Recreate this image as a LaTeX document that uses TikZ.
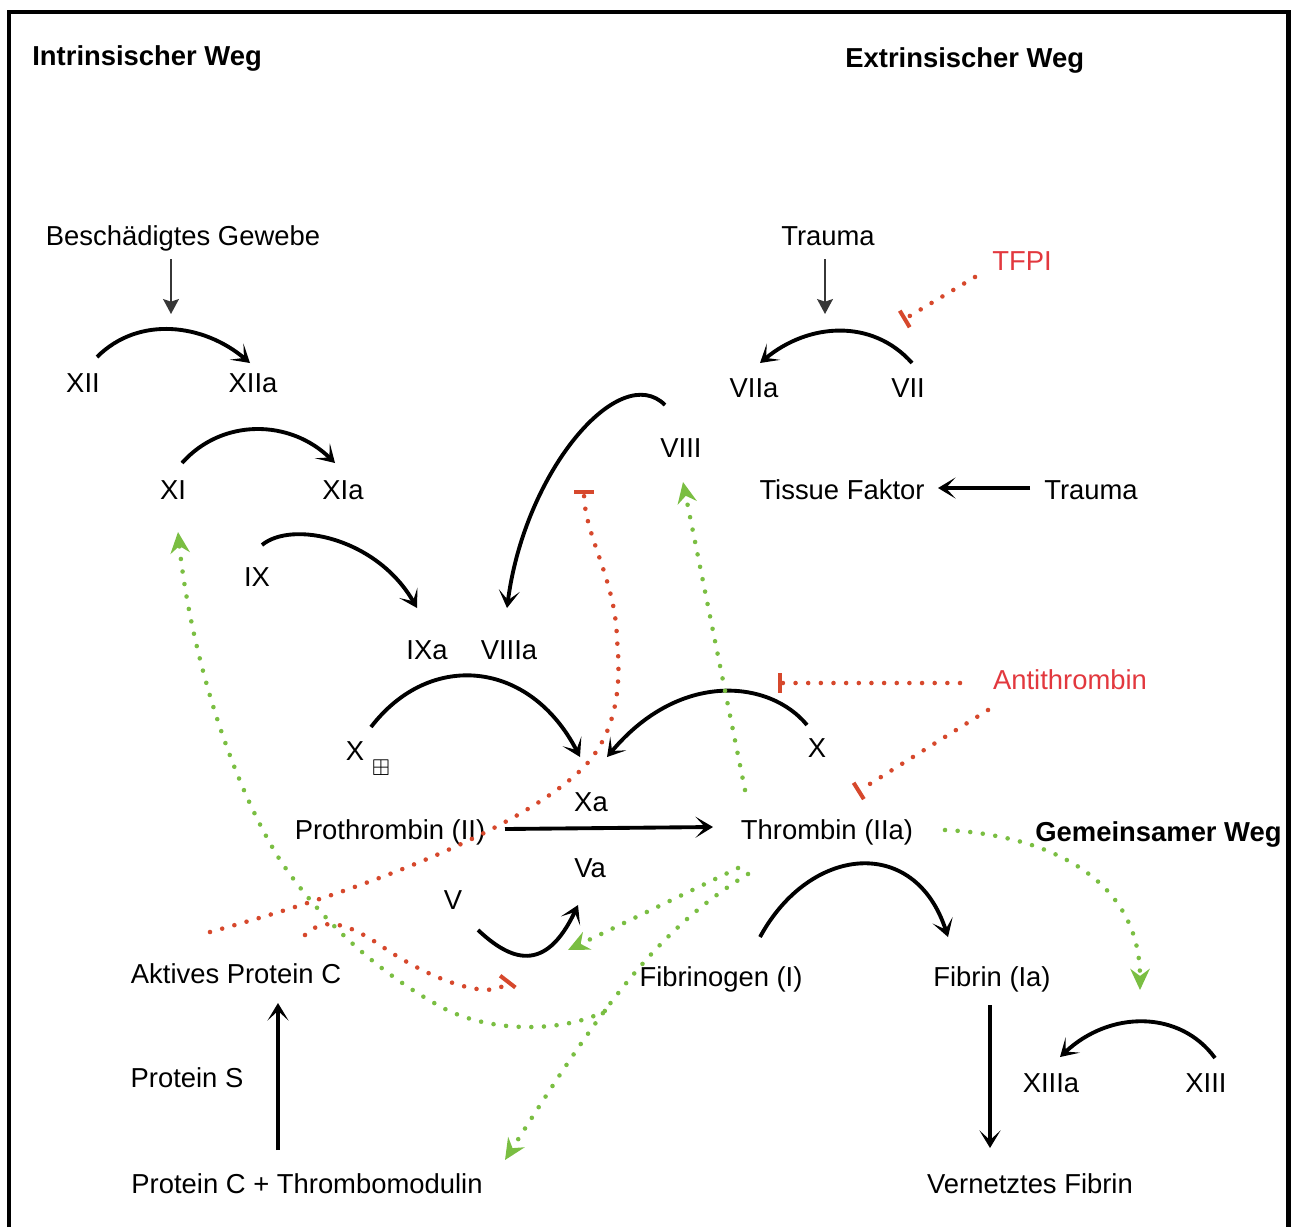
\documentclass[tikz,border=0pt]{standalone}
\usepackage{fontspec}
\setmainfont{Liberation Sans}
\usepackage{amssymb}
\usetikzlibrary{arrows.meta, positioning, calc}

\definecolor{inhred}{RGB}{214,72,44}
\definecolor{inhtext}{RGB}{226,56,62}
\definecolor{actgreen}{RGB}{122,190,66}
\definecolor{causegray}{RGB}{55,55,55}

\begin{document}
\begin{tikzpicture}[
  x=0.02cm, y=-0.02cm,
  font=\fontsize{15.6}{18}\selectfont,
  lbl/.style={anchor=base, inner sep=3pt},
  head/.style={anchor=base west, inner sep=0pt, font=\fontsize{15.6}{18}\selectfont\bfseries},
  conv/.style={-{Stealth[length=10pt, width=12pt, inset=5.5pt]}, black, line width=2.2pt},
  cause/.style={-{Stealth[length=8.5pt, width=9pt, inset=1.5pt]}, causegray, line width=1.2pt},
  act/.style={-{Stealth[length=12pt, width=11pt, inset=4pt]}, actgreen, line width=2.6pt,
              dash pattern=on 0pt off 7.2pt, line cap=round},
  inh/.style={-{Bar[width=11pt, line width=2.3pt]}, inhred, line width=2.6pt,
              dash pattern=on 0pt off 7.2pt, line cap=round}
]
  \useasboundingbox (0,0) rectangle (1293,1227);

  %--- frame ---
  \draw[line width=0.1cm] (9,1227) -- (9,12) -- (1288,12) -- (1288,1227);

  %--- headings ---
  \node[head] (intr) at (32,65)  {Intrinsischer Weg};
  \node[head] (extr) at (845,67) {Extrinsischer Weg};
  \node[head] (gem)  at (1035,841) {Gemeinsamer Weg};

  %--- intrinsic pathway ---
  \node[lbl] (gewebe) at (183,245) {Beschädigtes Gewebe};
  \node[lbl] (xii)    at (83,392)  {XII};
  \node[lbl] (xiia)   at (253,392) {XIIa};
  \node[lbl] (xi)     at (173,499) {XI};
  \node[lbl] (xia)    at (343,499) {XIa};
  \node[lbl] (ix)     at (257,586) {IX};
  \node[lbl] (ixa)    at (427,659) {IXa};
  \node[lbl] (viiia)  at (509,659) {VIIIa};
  \node[lbl] (xl)     at (355,760) {X};
  \node[inner sep=0pt, font=\fontsize{13}{14}\selectfont] (plus) at (381,768) {$\boxplus$};

  %--- extrinsic pathway ---
  \node[lbl] (trauma)  at (828,245)  {Trauma};
  \node[lbl, text=inhtext] (tfpi) at (1022,270) {TFPI};
  \node[lbl] (viia)    at (754,397)  {VIIa};
  \node[lbl] (vii)     at (908,397)  {VII};
  \node[lbl] (viii)    at (681,457)  {VIII};
  \node[lbl] (tf)      at (842,499)  {Tissue Faktor};
  \node[lbl] (trauma2) at (1091,499) {Trauma};
  \node[lbl, text=inhtext] (antithr) at (1070,689) {Antithrombin};
  \node[lbl] (xr)      at (817,757)  {X};

  %--- common pathway ---
  \node[lbl] (xa)     at (591,811)  {Xa};
  \node[lbl] (prothr) at (390,839)  {Prothrombin (II)};
  \node[lbl] (thr)    at (827,839)  {Thrombin (IIa)};
  \node[lbl] (va)     at (590,877)  {Va};
  \node[lbl] (v)      at (453,909)  {V};
  \node[lbl] (apc)    at (236,983)  {Aktives Protein C};
  \node[lbl] (fbg)    at (721,986)  {Fibrinogen (I)};
  \node[lbl] (fib)    at (992,986)  {Fibrin (Ia)};
  \node[lbl] (ps)     at (187,1087) {Protein S};
  \node[lbl] (xiiia)  at (1051,1092) {XIIIa};
  \node[lbl] (xiii)   at (1206,1092) {XIII};
  \node[lbl] (pctm)   at (307,1193) {Protein C + Thrombomodulin};
  \node[lbl] (vfib)   at (1030,1193) {Vernetztes Fibrin};

  %--- free ends ---
  \coordinate (xiiHit)  at (171,314);
  \coordinate (viiHit)  at (825,314);
  \coordinate (tfpiHit) at (903,320);
  \coordinate (xHit)    at (778,683);
  \coordinate (viiiHit) at (584,490);
  \coordinate (vaHit)   at (509,980);
  \coordinate (xiiiHit) at (1140,990);

  %--- triggers ---
  \draw[cause] ([shift={(-12,14)}]gewebe.base) -- (xiiHit);
  \draw[cause] ([shift={(-3,14)}]trauma.base) -- (viiHit);

  %--- conversions ---
  \draw[conv] ([shift={(14,-35)}]xii.base) .. controls +(42,-42) and +(-46,-39) .. ([shift={(-3,-29)}]xiia.base);
  \draw[conv] ([shift={(9,-36)}]xi.base) .. controls +(40,-45) and +(-45,-44) .. ([shift={(-8,-36)}]xia.base);
  \draw[conv] ([shift={(5,-41)}]ix.base) .. controls +(30,-25) and +(-40,-70) .. ([shift={(-10,-51)}]ixa.base);
  \draw[conv] ([shift={(4,-34)}]vii.base) .. controls +(-40,-45) and +(48,-40) .. ([shift={(6,-34)}]viia.base);
  \draw[conv] ([shift={(-16,-52)}]viii.base) .. controls +(-45,-45) and +(18,-138) .. ([shift={(-2,-51)}]viiia.base);
  \draw[conv] ([shift={(16,-33)}]xl.base) .. controls +(59,-77) and +(-50,-97) .. ([shift={(-11,-54)}]xa.base);
  \draw[conv] ([shift={(-10,-32)}]xr.base) .. controls +(-37,-45) and +(73,-87) .. ([shift={(16,-54)}]xa.base);
  \draw[conv] ([shift={(25,21)}]v.base) .. controls +(32,30) and +(-33,70) .. ([shift={(-12,28)}]va.base);
  \draw[conv] ([shift={(39,-49)}]fbg.base) .. controls +(50,-92) and +(-33,-102) .. ([shift={(-44,-49)}]fib.base);
  \draw[conv] ([shift={(9,-34)}]xiii.base) .. controls +(-35,-48) and +(50,-47) .. ([shift={(9,-35)}]xiiia.base);

  \draw[conv] ([shift={(115,-10)}]prothr.base) -- ([shift={(-114,-12)}]thr.base);
  \draw[conv] ([shift={(-61,-11)}]trauma2.base) -- ([shift={(96,-11)}]tf.base);
  \draw[conv] ([shift={(-2,19)}]fib.base) -- ([shift={(-40,-45)}]vfib.base);
  \draw[conv] ([shift={(-29,-43)}]pctm.base) -- ([shift={(42,20)}]apc.base);

  %--- inhibitors ---
  \draw[inh] ([shift={(-47,7)}]tfpi.base) -- (tfpiHit);
  \draw[inh] ([shift={(-110,-6)}]antithr.base) -- (xHit);
  \draw[inh] ([shift={(-82,21)}]antithr.base) -- ([shift={(30,-47)}]thr.base);
  \draw[inh] ([shift={(-26,-51)}]apc.base) .. controls (400,880) and (530,820) .. (583,768)
    .. controls (615,735) and (622,690) .. (617,640)
    .. controls (616,580) and (584,535) .. (viiiHit);
  \draw[inh] ([shift={(69,-48)}]apc.base) .. controls (325,915) and (350,925) .. (380,945)
    .. controls (430,980) and (492,1002) .. (vaHit);

  %--- thrombin feedback ---
  \draw[act] ([shift={(-82,-49)}]thr.base) -- ([shift={(2,25)}]viii.base);
  \draw[act] ([shift={(-89,29)}]thr.base) -- ([shift={(-22,73)}]va.base);
  \draw[act] ([shift={(-79,35)}]thr.base) .. controls +(-93,57) and +(95,-150) .. ([shift={(198,-33)}]pctm.base)
    coordinate[pos=0.6] (gsplit);
  \draw[act] (gsplit) .. controls (570,1030) and (500,1035) .. (447,1010)
    .. controls (380,975) and (320,920) .. (280,860)
    .. controls (230,780) and (190,650) .. ([shift={(5,33)}]xi.base);
  \draw[act] ([shift={(118,-9)}]thr.base) .. controls (1050,835) and (1140,880) .. (xiiiHit);

\end{tikzpicture}
\end{document}
